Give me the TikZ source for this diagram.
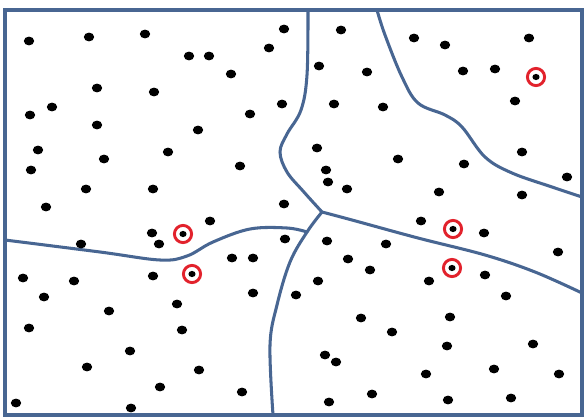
\documentclass[tikz,border=0pt]{standalone}
\usepackage{tikz}
\usetikzlibrary{calc}
\definecolor{edgeblue}{RGB}{72,102,146}
\definecolor{ringred}{RGB}{226,34,44}
\begin{document}
\begin{tikzpicture}[
            x=0.03cm, y=-0.03cm,
            frame/.style={draw=edgeblue, line width=2.8pt},
            cell/.style={draw=edgeblue, line width=2.6pt, line cap=round},
            site/.style={fill=black},
            ring/.style={draw=ringred, line width=2.5pt}
        ]
\useasboundingbox (0,0) rectangle (585,419);
% outer frame
            \draw[frame] (5,10) rectangle (582,415);
% junctions of the cell borders
            \coordinate (jn) at (322,212);
            \coordinate (js) at (307,232);
% cell borders
            \draw[cell] plot[smooth, tension=0.6] coordinates
                {(308,10) (307,75) (301,110) (287,134) (280,152) (287,172) (303,191) (jn)};
            \draw[cell] plot[smooth, tension=0.6] coordinates
                {(377,10) (385,35) (402,77) (418,103) (445,115) (462,127)
                 (485,157) (512,173) (552,187) (582,197)};
            \draw[cell] plot[smooth, tension=0.6] coordinates
                {(jn) (352,220) (418,238) (485,255) (535,272) (582,293)};
            \draw[cell] plot[smooth, tension=0.6] coordinates
                {(jn) (js) (290,262) (277,305) (270,345) (273,415)};
            \draw[cell] plot[smooth, tension=0.6] coordinates
                {(5,240) (100,252) (160,260) (187,256) (213,242) (250,229)
                 (287,228) (js)};
% sample points
            \foreach \px/\py in {
                29/41, 89/37, 145/34, 284/29, 189/56, 209/56, 269/48, 231/74,
                97/88, 154/92, 282/104, 52/107, 30/115, 250/114, 97/125, 198/130,
                38/150, 168/152, 104/159, 31/170, 240/166, 86/189, 153/189, 46/207,
                284/204, 210/221, 152/233, 159/244, 81/244,
                341/30, 414/38, 445/45, 319/66, 367/72, 334/104, 383/107, 317/148,
                398/159, 464/164, 326/170, 328/182, 347/189, 439/192,
                529/38, 463/71, 495/69, 515/101, 522/152, 567/177, 522/195,
                421/221, 484/233, 558/252,
                285/239, 232/258, 253/258, 23/278, 74/281, 153/276, 253/293, 44/297,
                109/311, 177/304, 29/328, 182/330, 130/351, 87/367, 199/370, 160/387,
                242/392, 16/403, 131/408,
                296/295, 327/241, 386/244, 348/259, 370/270, 429/281, 485/275, 318/281,
                506/296, 361/318, 450/317, 392/332, 447/346, 533/344, 325/355, 336/362,
                426/374, 494/369, 559/374, 329/402, 372/394, 448/400, 511/398}
                \fill[site] (\px,\py) ellipse [x radius=5.2, y radius=4.4];
% marked points
            \foreach \px/\py in {183/234, 192/274, 453/229, 452/268, 536/77} {
                \draw[ring] (\px,\py) circle [radius=8.6];
                \fill[site] (\px,\py) ellipse [x radius=3.6, y radius=3.1];
            }
        \end{tikzpicture}
\end{document}
